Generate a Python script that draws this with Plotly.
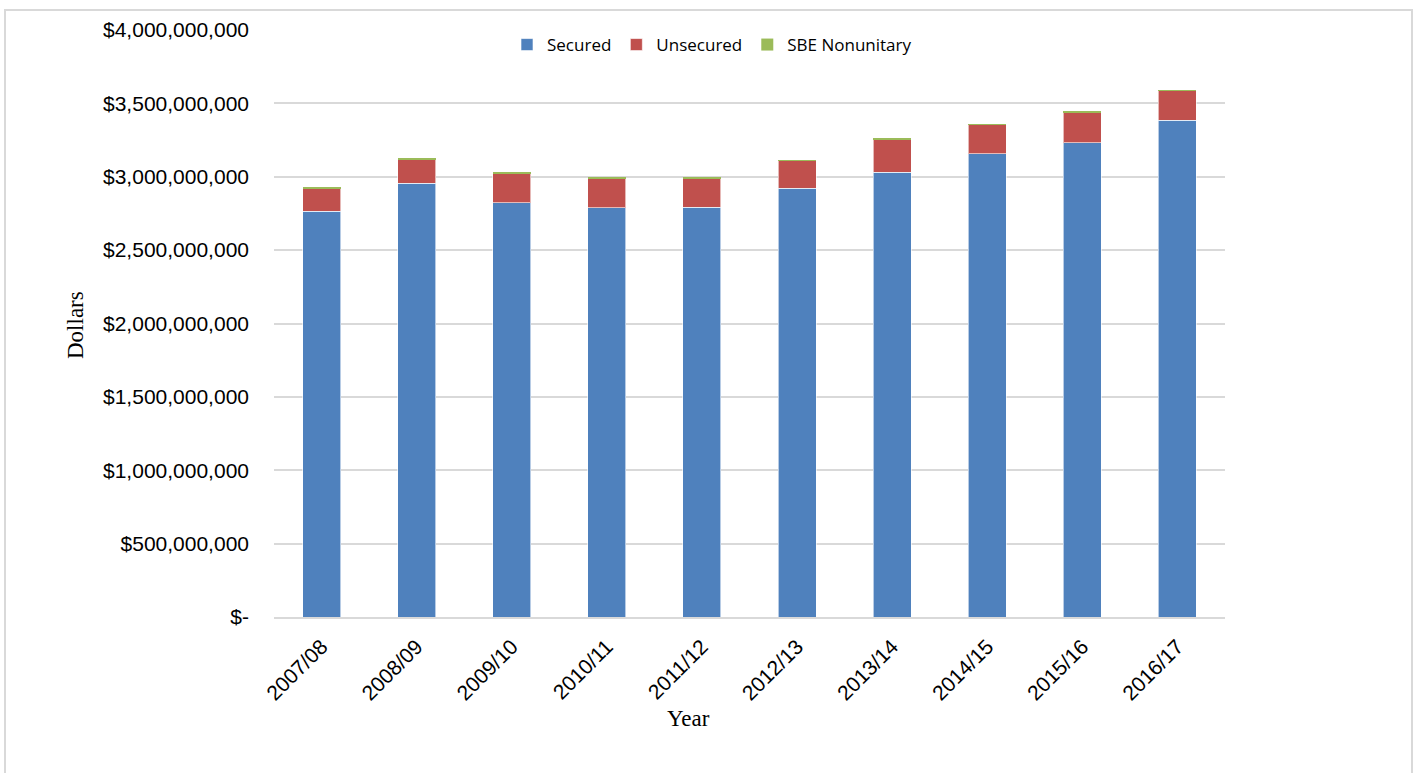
import plotly.graph_objects as go

years = ["2007/08", "2008/09", "2009/10", "2010/11", "2011/12",
         "2012/13", "2013/14", "2014/15", "2015/16", "2016/17"]
secured = [2.765e9, 2.956e9, 2.822e9, 2.788e9, 2.793e9,
           2.922e9, 3.029e9, 3.156e9, 3.231e9, 3.386e9]
unsecured = [0.154e9, 0.163e9, 0.203e9, 0.200e9, 0.198e9,
             0.186e9, 0.225e9, 0.197e9, 0.206e9, 0.200e9]
sbe = [0.005e9, 0.006e9, 0.006e9, 0.007e9, 0.006e9,
       0.005e9, 0.004e9, 0.005e9, 0.005e9, 0.004e9]

tick_vals = [0, 5e8, 1e9, 1.5e9, 2e9, 2.5e9, 3e9, 3.5e9, 4e9]
tick_text = ["$-", "$500,000,000", "$1,000,000,000", "$1,500,000,000",
             "$2,000,000,000", "$2,500,000,000", "$3,000,000,000",
             "$3,500,000,000", "$4,000,000,000"]

W, H = 1416, 773
L, R, T, B = 274, 1225, 30, 617

fig = go.Figure()
line = dict(color="rgba(255,255,255,0.6)", width=1)
fig.add_bar(x=years, y=secured, name="Secured", marker=dict(color="#4F81BD", line=line))
fig.add_bar(x=years, y=unsecured, name="Unsecured", marker=dict(color="#C0504D", line=line))
fig.add_bar(x=years, y=sbe, name="SBE Nonunitary", marker=dict(color="#9BBB59", line=dict(width=0)))

pw, ph = R - L, B - T
def px(x):
    return (x - L) / pw
def py(y):
    return (B - y) / ph

serif = "Liberation Serif, Times New Roman"

fig.update_layout(
    width=W, height=H,
    barmode="stack", bargap=0.6,
    plot_bgcolor="white", paper_bgcolor="white",
    margin=dict(l=L, r=W - R, t=T, b=H - B, autoexpand=False),
    font=dict(family="Liberation Sans, Arial", color="#404040"),
    legend=dict(orientation="h", x=px(712), xanchor="center", y=py(45), yanchor="middle",
                font=dict(family="Open Sans, Lato, Calibri", size=17, color="#000000"),
                bgcolor="rgba(0,0,0,0)", itemwidth=30, traceorder="normal",
                tracegroupgap=0),
    showlegend=True,
    xaxis=dict(tickangle=-45, tickfont=dict(size=21, color="#000000"),
               showline=True, linecolor="#d9d9d9", linewidth=2,
               ticks="", showgrid=False, ticklabelstandoff=7),
    yaxis=dict(range=[0, 4e9], tickvals=tick_vals, ticktext=tick_text,
               tickfont=dict(size=21, color="#000000"),
               showgrid=True, gridcolor="#d9d9d9", gridwidth=2,
               zeroline=False, showline=False, ticks="", ticklabelstandoff=24),
    annotations=[
        dict(text="Dollars", xref="paper", yref="paper", x=px(75), y=py(325),
             xanchor="center", yanchor="middle", textangle=-90, showarrow=False,
             font=dict(family=serif, size=23, color="#000000")),
        dict(text="Year", xref="paper", yref="paper", x=px(688), y=py(718),
             xanchor="center", yanchor="middle", showarrow=False,
             font=dict(family=serif, size=23, color="#000000")),
    ],
    shapes=[dict(type="rect", xref="paper", yref="paper",
                 x0=px(5), x1=px(1412), y0=py(800), y1=py(10),
                 line=dict(color="#d9d9d9", width=2), fillcolor="rgba(0,0,0,0)", layer="below")],
)

fig.write_html("out.html")
